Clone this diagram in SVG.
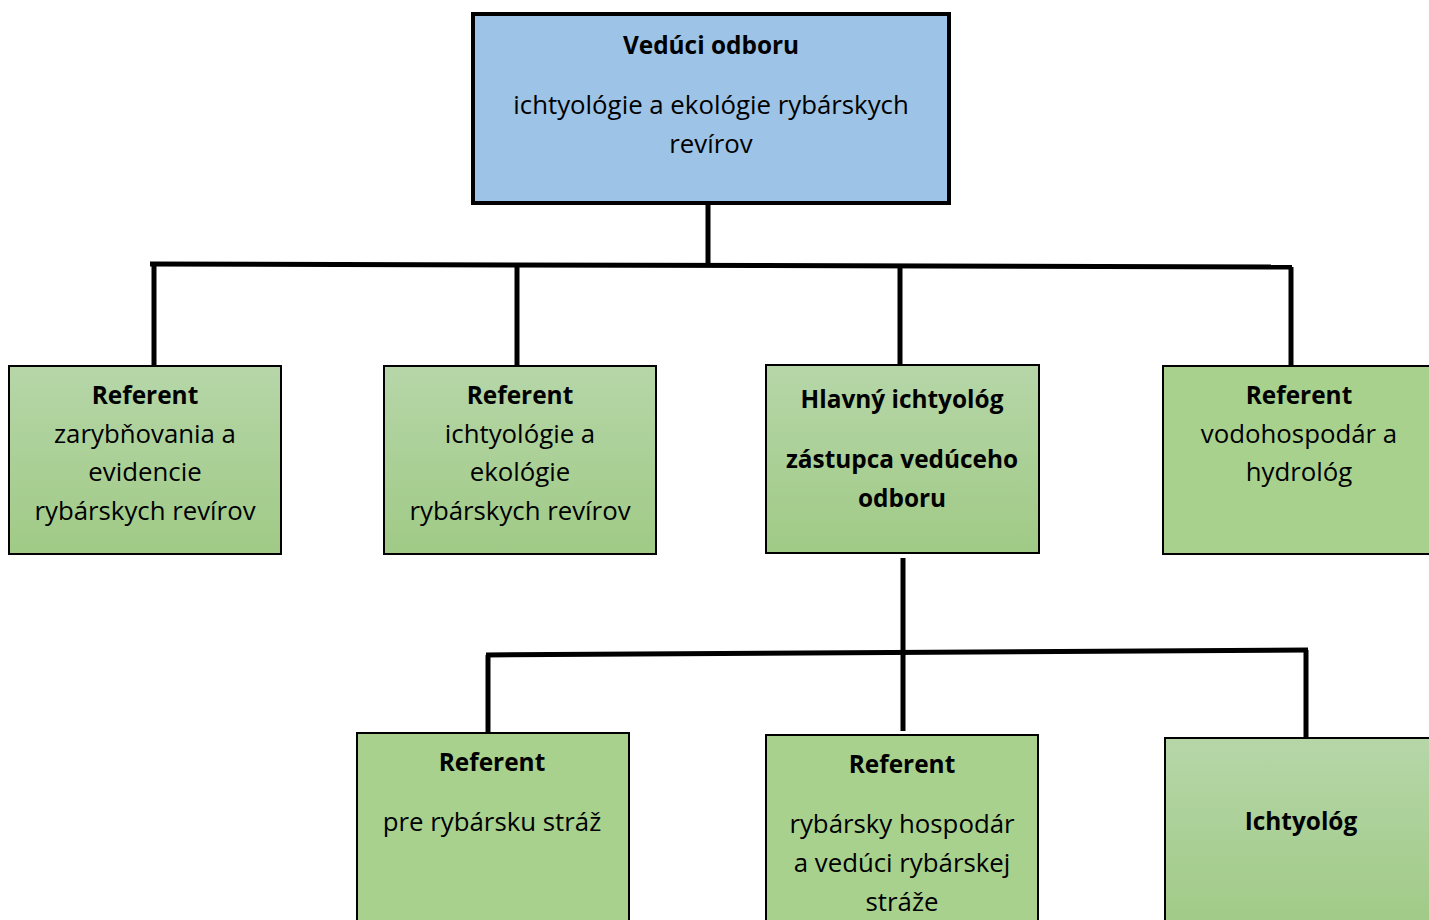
<svg xmlns="http://www.w3.org/2000/svg" width="1429" height="920" viewBox="0 0 1429 920">
<defs>
<linearGradient id="g" x1="0" y1="0" x2="0" y2="1">
<stop offset="0" stop-color="#B6D6A8"/>
<stop offset="1" stop-color="#A0CA86"/>
</linearGradient>
<style>
text{font-family:"Open Sans","Liberation Sans",sans-serif;font-size:25.8px;fill:#000;text-anchor:middle}
.b{font-weight:bold;font-size:24.4px}
.box{stroke:#000;stroke-width:2}
.grad{fill:url(#g)}
.flat{fill:#A9D18E}
.conn{stroke:#000;stroke-width:5;fill:none}
</style>
</defs>
<rect width="1429" height="920" fill="#fff"/>
<g id="connectors">
<path class="conn" d="M708 203V266"/>
<path class="conn" d="M150 264L1292 267"/>
<path class="conn" d="M154 264V366"/>
<path class="conn" d="M517 265V366"/>
<path class="conn" d="M900 266V372"/>
<path class="conn" d="M1291 267V366"/>
<path class="conn" d="M903 558V731"/>
<path class="conn" d="M486 655L1308 650"/>
<path class="conn" d="M488 655V736"/>
<path class="conn" d="M1306 650V737"/>
</g>
<g id="top">
<rect x="473" y="14" width="476" height="189" fill="#9DC3E6" stroke="#000" stroke-width="4"/>
<text x="711" y="54" class="b">Vedúci odboru</text>
<text x="711" y="114">ichtyológie a ekológie rybárskych</text>
<text x="711" y="153">revírov</text>
</g>
<g id="n1">
<rect class="box grad" x="9" y="366" width="272" height="188"/>
<text x="145" y="404" class="b">Referent</text>
<text x="145" y="443">zarybňovania a</text>
<text x="145" y="481">evidencie</text>
<text x="145" y="520">rybárskych revírov</text>
</g>
<g id="n2">
<rect class="box grad" x="384" y="366" width="272" height="188"/>
<text x="520" y="404" class="b">Referent</text>
<text x="520" y="443">ichtyológie a</text>
<text x="520" y="481">ekológie</text>
<text x="520" y="520">rybárskych revírov</text>
</g>
<g id="n3">
<rect class="box grad" x="766" y="365" width="273" height="188"/>
<text x="902" y="408" class="b">Hlavný ichtyológ</text>
<text x="902" y="468" class="b">zástupca vedúceho</text>
<text x="902" y="507" class="b">odboru</text>
</g>
<g id="n4">
<rect class="box flat" x="1163" y="366" width="272" height="188"/>
<text x="1299" y="404" class="b">Referent</text>
<text x="1299" y="443">vodohospodár a</text>
<text x="1299" y="481">hydrológ</text>
</g>
<g id="n5">
<rect class="box flat" x="357" y="733" width="272" height="195"/>
<text x="492" y="771" class="b">Referent</text>
<text x="492" y="831">pre rybársku stráž</text>
</g>
<g id="n6">
<rect class="box flat" x="766" y="735" width="272" height="195"/>
<text x="902" y="773" class="b">Referent</text>
<text x="902" y="833">rybársky hospodár</text>
<text x="902" y="872">a vedúci rybárskej</text>
<text x="902" y="911">stráže</text>
</g>
<g id="n7">
<rect class="box grad" x="1165" y="738" width="272" height="195"/>
<text x="1301" y="830" class="b">Ichtyológ</text>
</g>
</svg>
